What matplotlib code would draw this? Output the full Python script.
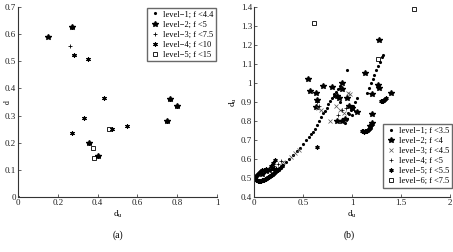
import matplotlib
matplotlib.use("Agg")
import matplotlib.pyplot as plt
from matplotlib.ticker import FormatStrFormatter

plt.rcParams["font.family"] = ["Liberation Serif", "DejaVu Serif"]
plt.rcParams["font.size"] = 6.5
plt.rcParams["mathtext.fontset"] = "stix"

# ---- panel (a) ----
a_labels = ["level\u22121; f <4.4", "level\u22122; f <5", "level\u22123; f <7.5",
            "level\u22124; f <10", "level\u22125; f <15"]
a_x1 = [0.0]
a_y1 = [0.0]
a_x2 = [0.15, 0.27, 0.355, 0.40, 0.75, 0.765, 0.80]
a_y2 = [0.59, 0.625, 0.20, 0.15, 0.28, 0.362, 0.337]
a_x3 = [0.26, 0.28]
a_y3 = [0.555, 0.525]
a_x4 = [0.27, 0.35, 0.43, 0.33, 0.27, 0.545, 0.355, 0.40, 0.765, 0.80, 0.75, 0.47, 0.28]
a_y4 = [0.625, 0.51, 0.366, 0.29, 0.235, 0.262, 0.20, 0.15, 0.362, 0.337, 0.28, 0.25, 0.525]
a_x5 = [0.375, 0.38, 0.455]
a_y5 = [0.18, 0.145, 0.25]

# ---- panel (b) ----
b_labels = ["level\u22121; f <3.5", "level\u22122; f <4", "level\u22123; f <4.5",
            "level\u22124; f <5", "level\u22125; f <5.5", "level\u22126; f <7.5"]
b_x1 = [0.30, 0.33, 0.36, 0.40, 0.44, 0.47, 0.50, 0.53, 0.56, 0.58, 0.60,
        0.62, 0.64, 0.66, 0.68, 0.70, 0.72, 0.74, 0.76, 0.78, 0.80, 0.82,
        0.84, 0.86, 0.88, 0.90,
        0.93, 0.95, 0.97, 0.99, 1.01, 1.03, 1.05,
        1.15, 1.17, 1.19, 1.21, 1.23, 1.25, 1.27, 1.29, 1.31, 1.32,
        0.95, 0.82, 0.88, 0.96, 1.00]
b_y1 = [0.57, 0.585, 0.60, 0.62, 0.645, 0.66, 0.68, 0.70, 0.715, 0.73, 0.745,
        0.76, 0.78, 0.80, 0.82, 0.84, 0.855, 0.87, 0.89, 0.905, 0.92, 0.94,
        0.955, 0.97, 0.985, 1.00,
        0.79, 0.81, 0.835, 0.86, 0.88, 0.90, 0.92,
        0.95, 0.975, 1.00, 1.02, 1.045, 1.07, 1.09, 1.11, 1.135, 1.15,
        1.07, 0.93, 0.90, 0.84, 0.83]
b_x2 = [0.08, 0.12, 0.15, 0.55, 0.57, 0.63, 0.64, 0.63, 0.70, 0.80, 0.85, 0.87,
        0.90, 0.90, 0.95, 0.97, 1.00, 1.05, 1.13, 1.28, 1.27, 1.28, 1.20,
        1.40, 1.20, 1.20, 0.85, 0.90, 0.93, 1.18]
b_y2 = [0.52, 0.535, 0.545, 1.02, 0.96, 0.95, 0.91, 0.875, 0.985, 0.98, 0.93, 0.92,
        0.97, 1.00, 0.92, 0.88, 0.87, 0.85, 1.055, 1.225, 0.99, 0.975, 0.945,
        0.95, 0.835, 0.79, 0.80, 0.80, 0.81, 0.775]
b_x3 = [0.78, 0.65, 0.68, 0.84, 0.88, 0.92, 0.96, 0.98, 0.30, 0.38, 0.42, 0.46]
b_y3 = [0.80, 0.87, 0.86, 0.88, 0.86, 0.84, 0.95, 0.94, 0.585, 0.61, 0.63, 0.65]
b_x4 = [0.64, 0.66, 0.86, 0.90, 0.94, 1.02, 0.20, 0.24, 0.27]
b_y4 = [0.90, 0.88, 0.83, 0.86, 0.87, 0.86, 0.565, 0.575, 0.59]
b_x5 = [0.00, 0.01, 0.02, 0.03, 0.04, 0.05, 0.06, 0.07, 0.08, 0.09, 0.10,
        0.11, 0.12, 0.13, 0.14, 0.15, 0.16, 0.17, 0.18, 0.19, 0.20, 0.21,
        0.22, 0.24, 0.26, 0.28,
        0.01, 0.02, 0.03, 0.04, 0.05, 0.06, 0.07, 0.08, 0.10, 0.12,
        0.21, 0.19, 0.17, 0.18, 0.20, 0.22,
        1.10, 1.11, 1.12, 1.13, 1.14, 1.15, 1.16, 1.17, 1.18, 1.19,
        1.30, 1.31, 1.32, 1.33, 1.34, 1.35,
        0.64]
b_y5 = [0.50, 0.495, 0.49, 0.488, 0.487, 0.486, 0.486, 0.487, 0.488, 0.49, 0.492,
        0.494, 0.497, 0.50, 0.503, 0.506, 0.51, 0.514, 0.518, 0.522, 0.526, 0.53,
        0.535, 0.543, 0.552, 0.562,
        0.505, 0.51, 0.515, 0.52, 0.525, 0.53, 0.535, 0.54, 0.545, 0.55,
        0.595, 0.58, 0.565, 0.553, 0.55, 0.548,
        0.748, 0.746, 0.745, 0.746, 0.748, 0.75, 0.753, 0.757, 0.765, 0.78,
        0.905, 0.905, 0.908, 0.91, 0.915, 0.92,
        0.665]
b_x6 = [0.61, 1.63, 1.27]
b_y6 = [1.315, 1.39, 1.125]

ASTER = (6, 2, 0)


def style_axes(ax):
    for s in ["top", "right"]:
        ax.spines[s].set_visible(False)
    for s in ["left", "bottom"]:
        ax.spines[s].set_linewidth(0.8)
        ax.spines[s].set_color("#333333")
    ax.tick_params(direction="in", length=2, width=0.5, pad=1.5, colors="#222222")
    ax.xaxis.set_major_formatter(FormatStrFormatter("%g"))
    ax.yaxis.set_major_formatter(FormatStrFormatter("%g"))


fig = plt.figure(figsize=(4.53, 2.52), dpi=100)

ax1 = fig.add_axes([0.04, 0.218, 0.439, 0.754])
ax1.plot(a_x1, a_y1, ".", color="k", ms=2.5, label=a_labels[0])
ax1.plot(a_x2, a_y2, "*", color="k", ms=4.2, label=a_labels[1])
ax1.plot(a_x3, a_y3, "+", color="k", ms=3.5, mew=0.6, label=a_labels[2])
ax1.plot(a_x4, a_y4, marker=ASTER, ls="none", color="k", ms=3.2, mew=0.8, label=a_labels[3])
ax1.plot(a_x5, a_y5, "s", mfc="none", mec="k", ms=3, mew=0.6, label=a_labels[4])
ax1.set_xlim(0, 1)
ax1.set_ylim(0, 0.7)
ax1.set_xticks([0, 0.2, 0.4, 0.6, 0.8, 1])
ax1.set_yticks([0, 0.1, 0.2, 0.3, 0.4, 0.5, 0.6, 0.7])
style_axes(ax1)
ax1.set_xlabel(r"d$_{\rm u}$", labelpad=1)
ax1.set_ylabel("d", fontsize=5.5)
ax1.yaxis.set_label_coords(-0.03, 0.5)
leg1 = ax1.legend(loc="upper right", fontsize=6, frameon=True, fancybox=False,
                  borderpad=0.3, labelspacing=0.25, handletextpad=0.4,
                  handlelength=1.2, borderaxespad=0.1)
leg1.get_frame().set_edgecolor("#444444")
leg1.get_frame().set_linewidth(1.0)

ax2 = fig.add_axes([0.561, 0.218, 0.432, 0.754])
ax2.plot(b_x1, b_y1, ".", color="k", ms=2.5, label=b_labels[0])
ax2.plot(b_x2, b_y2, "*", color="k", ms=4, label=b_labels[1])
ax2.plot(b_x3, b_y3, "x", color="#555555", ms=2.5, mew=0.5, label=b_labels[2])
ax2.plot(b_x4, b_y4, "+", color="k", ms=3, mew=0.5, label=b_labels[3])
ax2.plot(b_x5, b_y5, marker=ASTER, ls="none", color="k", ms=3, mew=0.9, label=b_labels[4])
ax2.plot(b_x6, b_y6, "s", mfc="none", mec="k", ms=3, mew=0.6, label=b_labels[5])
ax2.set_xlim(0, 2)
ax2.set_ylim(0.4, 1.4)
ax2.set_xticks([0, 0.5, 1, 1.5, 2])
ax2.set_yticks([0.4, 0.5, 0.6, 0.7, 0.8, 0.9, 1.0, 1.1, 1.2, 1.3, 1.4])
style_axes(ax2)
ax2.set_xlabel(r"d$_{\rm u}$", labelpad=1)
ax2.set_ylabel(r"d$_{\rm u}$", labelpad=1)
leg2 = ax2.legend(loc="lower right", bbox_to_anchor=(1.01, 0.05), fontsize=6,
                  frameon=True, fancybox=False, borderpad=0.3, labelspacing=0.25,
                  handletextpad=0.4, handlelength=1.2, borderaxespad=0.0)
leg2.get_frame().set_edgecolor("#444444")
leg2.get_frame().set_linewidth(1.0)

fig.text(0.26, 0.055, "(a)", ha="center", fontsize=7)
fig.text(0.77, 0.055, "(b)", ha="center", fontsize=7)

fig.savefig("out.png", dpi=100)
